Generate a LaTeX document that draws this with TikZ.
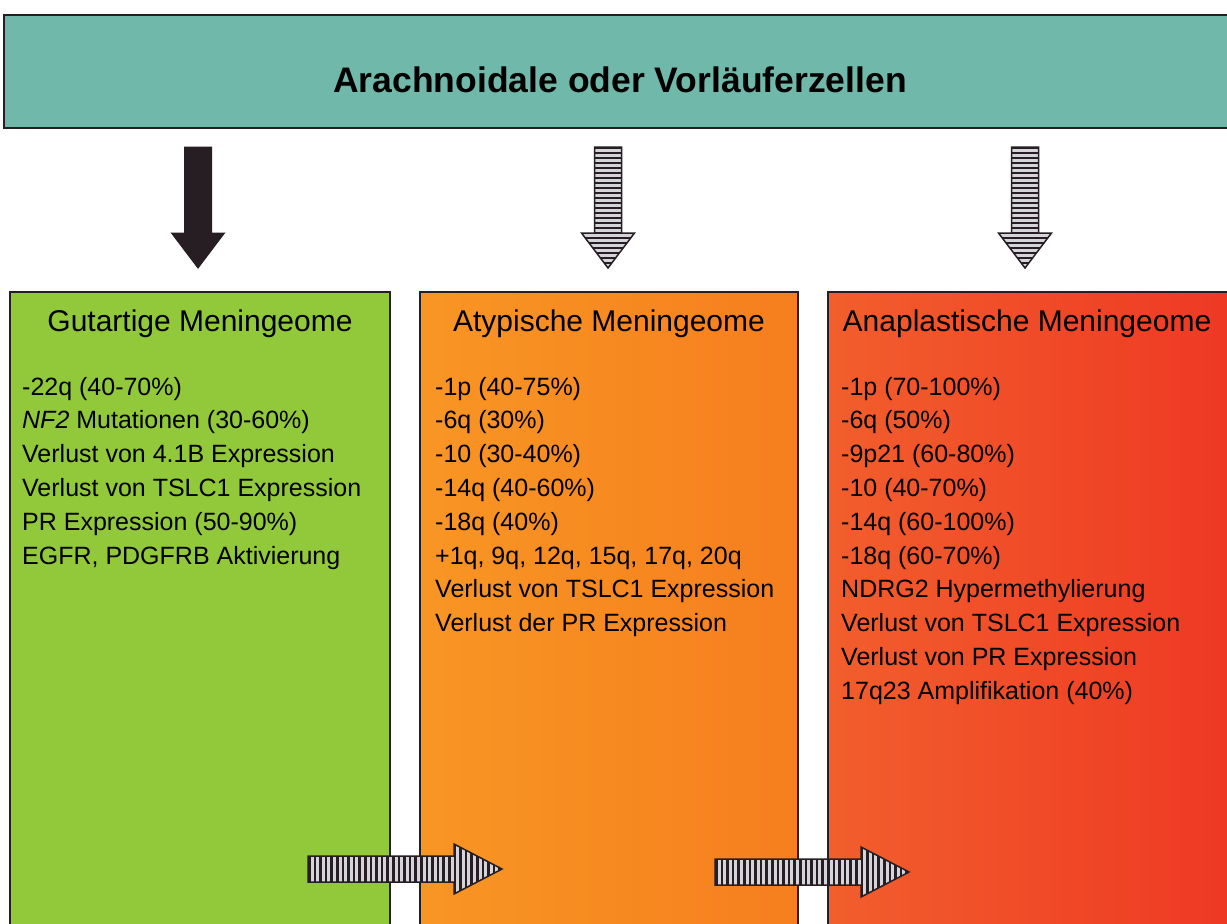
\documentclass[tikz,border=0pt]{standalone}
\usepackage{fontspec}
\setmainfont{Liberation Sans}
\usetikzlibrary{positioning}

\definecolor{tuerkis}{RGB}{112,184,170}
\definecolor{gruen}{RGB}{146,201,58}
\definecolor{orangeA}{RGB}{248,150,36}
\definecolor{orangeB}{RGB}{246,126,30}
\definecolor{rotA}{RGB}{242,94,44}
\definecolor{rotB}{RGB}{238,56,36}
\definecolor{rand}{RGB}{38,30,34}
\definecolor{streifen}{RGB}{212,212,218}

\tikzset{
  kasten/.style={draw=rand, line width=2},
  kopf/.style={font=\fontsize{30}{36}\selectfont, anchor=base, inner sep=0},
  zeile/.style={font=\fontsize{25}{30}\selectfont, anchor=base west, inner sep=0},
}

% block arrow pointing down, top of shaft at y=147
\newcommand\pfeilrunter[1]{%
  \path[#1] (-13.5,147) -- (13.5,147) -- (13.5,233) -- (26.5,233)
    -- (0,268) -- (-26.5,233) -- (-13.5,233) -- cycle;}
% block arrow pointing right, origin at middle of the tail
\newcommand\pfeilrechts[1]{%
  \path[#1] (0,-13) -- (146,-13) -- (146,-25) -- (194,0)
    -- (146,25) -- (146,13) -- (0,13) -- cycle;}

\begin{document}
\begin{tikzpicture}[x=1pt,y=-1pt]

\clip (0,0) rectangle (1227,924);
\fill[white] (0,0) rectangle (1227,924);

% top band
\fill[tuerkis] (4,15) rectangle (1240,128);
\draw[rand, line width=2.5]
  (1240,15) -- (4,15) -- (4,128) -- (1240,128);
\node[font=\bfseries\fontsize{35.5}{42}\selectfont, anchor=base, inner sep=0]
  (titel) at (620,92) {Arachnoidale oder Vorläuferzellen};

% columns
\fill[gruen] (10,292) rectangle (390,940);
\draw[kasten] (10,940) -- (10,292) -- (390,292) -- (390,940);

\shade[left color=orangeA, right color=orangeB] (420,292) rectangle (798,940);
\draw[kasten] (420,940) -- (420,292) -- (798,292) -- (798,940);

\shade[left color=rotA, right color=rotB] (828,292) rectangle (1240,940);
\draw[kasten] (828,940) -- (828,292) -- (1240,292);

% down arrows
\begin{scope}[shift={(198,0)}]
\pfeilrunter{fill=rand, draw=rand, line width=1}
\end{scope}

\foreach \xpos in {608,1025}{
\begin{scope}[shift={(\xpos,0)}]
\pfeilrunter{fill=streifen}
\begin{scope}
\pfeilrunter{clip}
\foreach \ypos in {147,152,...,272}
  \fill[rand] (-30,\ypos) rectangle (30,\ypos+2.4);
\end{scope}
\pfeilrunter{draw=rand, line width=1.5}
\end{scope}
}

% headers
\node[kopf] (kopfg) at (200,331) {Gutartige Meningeome};
\node[kopf] (kopfa) at (609,331) {Atypische Meningeome};
\node[kopf] (kopfn) at (1027,331) {Anaplastische Meningeome};

% entries
\foreach \eintrag [count=\i] in {%
  {-22q (40-70\%)},
  {\textit{NF2} Mutationen (30-60\%)},
  {Verlust von 4.1B Expression},
  {Verlust von TSLC1 Expression},
  {PR Expression (50-90\%)},
  {EGFR, PDGFRB Aktivierung}}
  \node[zeile] (g\i) at (22,395+33.8*\i-33.8) {\eintrag};

\foreach \eintrag [count=\i] in {%
  {-1p (40-75\%)},
  {-6q (30\%)},
  {-10 (30-40\%)},
  {-14q (40-60\%)},
  {-18q (40\%)},
  {+1q, 9q, 12q, 15q, 17q, 20q},
  {Verlust von TSLC1 Expression},
  {Verlust der PR Expression}}
  \node[zeile] (a\i) at (435,395+33.8*\i-33.8) {\eintrag};

\foreach \eintrag [count=\i] in {%
  {-1p (70-100\%)},
  {-6q (50\%)},
  {-9p21 (60-80\%)},
  {-10 (40-70\%)},
  {-14q (60-100\%)},
  {-18q (60-70\%)},
  {NDRG2 Hypermethylierung},
  {Verlust von TSLC1 Expression},
  {Verlust von PR Expression},
  {17q23 Amplifikation (40\%)}}
  \node[zeile] (n\i) at (841,395+33.8*\i-33.8) {\eintrag};

% arrows between the grades
\foreach \xpos/\ypos in {308/869, 715/872}{
\begin{scope}[shift={(\xpos,\ypos)}]
\pfeilrechts{fill=streifen}
\begin{scope}
\pfeilrechts{clip}
\foreach \xs in {0,5.6,...,200}
  \fill[rand] (\xs,-30) rectangle (\xs+2.6,30);
\end{scope}
\pfeilrechts{draw=rand, line width=1.5}
\end{scope}
}

\end{tikzpicture}
\end{document}
